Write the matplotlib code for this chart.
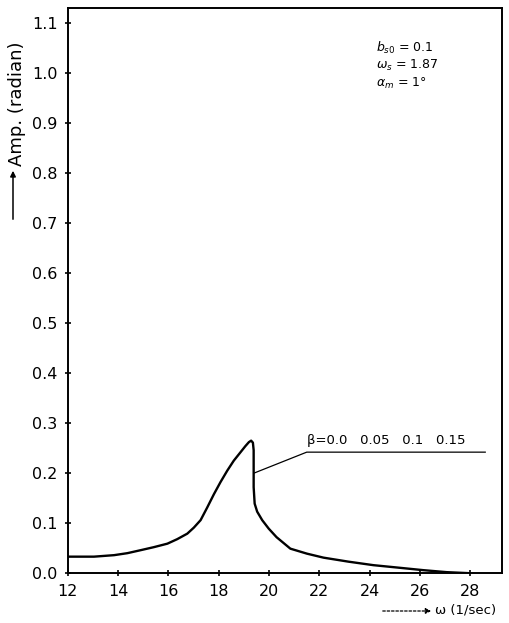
import matplotlib
matplotlib.use("Agg")
import matplotlib.pyplot as plt
import numpy as np

# response curve (x in the tick units shown, 12..28)
omega = [12.0, 13.04, 13.84, 14.37, 14.9, 15.42, 15.96, 16.35, 16.75, 17.01,
         17.28, 17.54, 17.81, 18.07, 18.34, 18.6, 18.87, 19.06, 19.2, 19.29,
         19.36, 19.39, 19.39, 19.43, 19.53, 19.73, 19.99, 20.3, 20.85, 21.51,
         22.17, 23.16, 24.15, 25.15, 26.14, 27.07, 27.95]
amp = [0.033, 0.033, 0.036, 0.040, 0.046, 0.052, 0.059, 0.068, 0.079, 0.091,
       0.106, 0.131, 0.158, 0.182, 0.205, 0.225, 0.242, 0.254, 0.262, 0.265,
       0.261, 0.246, 0.172, 0.139, 0.123, 0.106, 0.089, 0.072, 0.049, 0.039,
       0.031, 0.023, 0.016, 0.011, 0.006, 0.002, 0.0]

x_ticks = [12, 14, 16, 18, 20, 22, 24, 26, 28]
x_labels = ["12", "14", "16", "18", "20", "22", "24", "26", "28"]
y_ticks = [0.0, 0.1, 0.2, 0.3, 0.4, 0.5, 0.6, 0.7, 0.8, 0.9, 1.0, 1.1]
y_labels = ["0.0", "0.1", "0.2", "0.3", "0.4", "0.5", "0.6", "0.7", "0.8", "0.9", "1.0", "1.1"]

# leader line for the beta label
leader_x = [19.4, 21.5, 28.6]
leader_y = [0.200, 0.242, 0.242]

plt.rcParams['font.family'] = ['DejaVu Sans']

W, H = 510, 623
fig = plt.figure(figsize=(W / 100, H / 100), dpi=100)
ax = fig.add_axes([0.133, 0.080, 0.851, 0.907])

ax.plot(omega, amp, color="black", lw=1.7, solid_joinstyle="round", solid_capstyle="round")
ax.plot(leader_x, leader_y, color="black", lw=0.9)
ax.text(21.5, 0.252, "\u03b2=0.0   0.05   0.1   0.15", fontsize=9.5, ha="left", va="bottom")

ax.set_xlim(12, 29.26)
ax.set_ylim(0, 1.13)
ax.set_xticks(x_ticks)
ax.set_xticklabels(x_labels)
ax.set_yticks(y_ticks)
ax.set_yticklabels(y_labels)
ax.tick_params(direction="inout", length=5, width=1.2, labelsize=11.5, pad=5)
for s in ax.spines.values():
    s.set_linewidth(1.4)

ax.text(24.25, 1.050, "$b_{s0}$ = 0.1", fontsize=9, ha="left", va="center")
ax.text(24.25, 1.015, "$\\omega_s$ = 1.87", fontsize=9, ha="left", va="center")
ax.text(24.25, 0.980, "$\\alpha_m$ = 1°", fontsize=9, ha="left", va="center")

# axis captions with arrows, placed in figure pixels as on the scan
fig.patches.append(matplotlib.patches.FancyArrowPatch(
    (13 / W, 1 - 222 / H), (13 / W, 1 - 168 / H), transform=fig.transFigure,
    arrowstyle="-|>", mutation_scale=8, lw=1.1, color="black"))
fig.text(17 / W, 1 - 166 / H, "Amp. (radian)", rotation=90, fontsize=13,
         ha="center", va="bottom")

fig.patches.append(matplotlib.patches.FancyArrowPatch(
    (380 / W, 1 - 611 / H), (434 / W, 1 - 611 / H), transform=fig.transFigure,
    arrowstyle="-|>", mutation_scale=8, lw=0.9, ls=(0, (2, 1.5)), color="black"))
fig.text(435 / W, 1 - 610 / H, "\u03c9 (1/sec)", fontsize=9.5, ha="left", va="center")

fig.savefig("out.png", dpi=100)
